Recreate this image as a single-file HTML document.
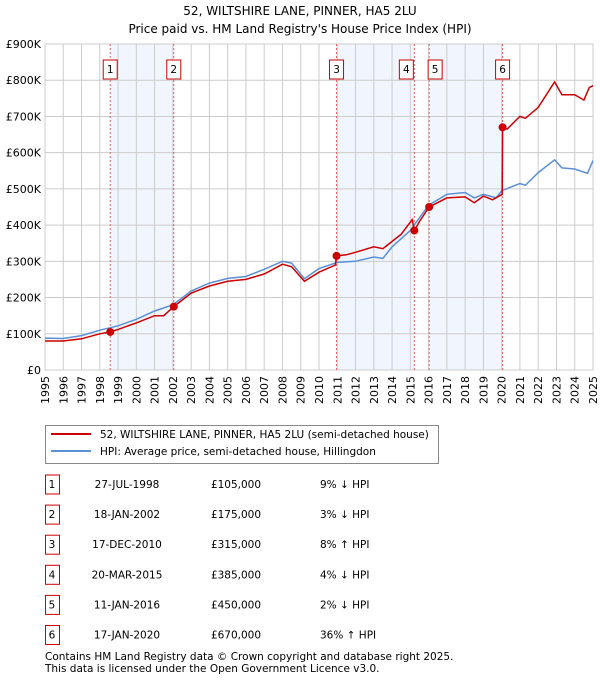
<!DOCTYPE html>
<html><head><meta charset="utf-8"><style>
body{margin:0;background:#fff;font-family:"DejaVu Sans","Liberation Sans",sans-serif;}
svg text{font-family:"DejaVu Sans","Liberation Sans",sans-serif;fill:#000}
</style></head><body>
<svg id="c" width="600" height="680" xmlns="http://www.w3.org/2000/svg">
<text x="300" y="15" font-size="12" text-anchor="middle">52, WILTSHIRE LANE, PINNER, HA5 2LU</text>
<text x="300" y="33" font-size="12" text-anchor="middle">Price paid vs. HM Land Registry's House Price Index (HPI)</text>
<g id="plot"></g>
<g>
<rect x="45.5" y="425.5" width="393" height="38" fill="#fff" stroke="#888"/>
<line x1="51" y1="434" x2="91" y2="434" stroke="#cc0000" stroke-width="2"/>
<text x="100" y="438" font-size="10.5">52, WILTSHIRE LANE, PINNER, HA5 2LU (semi-detached house)</text>
<line x1="51" y1="451" x2="91" y2="451" stroke="#5b8fd6" stroke-width="2"/>
<text x="100" y="455" font-size="10.5">HPI: Average price, semi-detached house, Hillingdon</text>
</g>
<g id="tbl"></g>
<text x="45" y="660" font-size="10.5" fill="#333">Contains HM Land Registry data © Crown copyright and database right 2025.</text>
<text x="45" y="672" font-size="10.5" fill="#333">This data is licensed under the Open Government Licence v3.0.</text>
</svg>
<script>
const hpiX=[1995,1996,1997,1998,1999,2000,2001,2002,2003,2004,2005,2006,2007,2008,2008.5,2009.2,2010,2011,2012,2013,2013.5,2014,2015,2016,2017,2018,2018.5,2019,2019.7,2020,2021,2021.3,2022,2022.9,2023.3,2024,2024.7,2025];
const hpiY=[88,87,95,110,122,140,163,180,218,240,253,258,278,300,295,252,280,297,300,312,308,340,385,455,485,490,475,485,475,495,515,510,545,580,558,555,543,578];
const redX=[1995,1996,1997,1998,1998.57,1999,2000,2001,2001.5,2002.05,2003,2004,2005,2006,2007,2008,2008.5,2009.2,2010,2010.9,2010.96,2011.5,2012,2013,2013.5,2014,2014.5,2015.1,2015.22,2015.5,2016.03,2017,2018,2018.5,2019,2019.5,2020.03,2020.05,2020.3,2021,2021.3,2022,2022.9,2023.3,2024,2024.5,2024.8,2025];
const redY=[80,80,86,100,105,112,130,150,150,175,212,232,245,250,265,292,285,245,270,290,315,318,325,340,335,355,375,415,385,410,450,475,478,462,480,470,485,670,665,700,695,725,795,760,760,745,780,785];
const saleX=[1998.57,2002.05,2010.96,2015.22,2016.03,2020.05];
const saleY=[105,175,315,385,450,670];
const saleLabels=["1","2","3","4","5","6"];
const saleDates=["27-JUL-1998","18-JAN-2002","17-DEC-2010","20-MAR-2015","11-JAN-2016","17-JAN-2020"];
const salePrices=["£105,000","£175,000","£315,000","£385,000","£450,000","£670,000"];
const saleHpi=["9% ↓ HPI","3% ↓ HPI","8% ↑ HPI","4% ↓ HPI","2% ↓ HPI","36% ↑ HPI"];
const yTicks=[0,100,200,300,400,500,600,700,800,900];
const yTickLabels=["£0","£100K","£200K","£300K","£400K","£500K","£600K","£700K","£800K","£900K"];
const NS="http://www.w3.org/2000/svg";
const X0=45,X1=593,Y0=370,Y1=44;
const xs=v=>X0+(v-1995)/30*(X1-X0);
const ys=v=>Y0-v/900*(Y0-Y1);
const plot=document.getElementById('plot');
function mk(t,a,p){const e=document.createElementNS(NS,t);for(const k in a)e.setAttribute(k,a[k]);(p||plot).appendChild(e);return e;}
[[0,1],[2,3],[4,5]].forEach(([a,b],i)=>{
 const r=mk('rect',{x:xs(saleX[a]),y:Y1,width:xs(saleX[b])-xs(saleX[a]),height:Y0-Y1,fill:'#eef3fc',opacity:0.8});
 
 
});
for(let y=1995;y<=2025;y++){const l=mk('line',{x1:xs(y),x2:xs(y),y1:Y1,y2:Y0,stroke:'#ccc','stroke-width':1});
 
 
 const g=mk('g',{transform:'translate('+(xs(y)+4)+','+(Y0+6)+') rotate(-90)'});
 const t=mk('text',{x:0,y:0,'font-size':11,'text-anchor':'end'},g);
 t.textContent=y;
 
 
}
yTicks.forEach((v,i)=>{const l=mk('line',{x1:X0,x2:X1,y1:ys(v),y2:ys(v),stroke:'#ccc','stroke-width':1});
 
 
 const t=mk('text',{x:X0-4,y:ys(v)+4,'font-size':11,'text-anchor':'end'});t.textContent=yTickLabels[i];
 
 
});
mk('rect',{x:X0,y:Y1,width:X1-X0,height:Y0-Y1,fill:'none',stroke:'#ccc'});
saleX.forEach((v,i)=>{const l=mk('line',{x1:xs(v),x2:xs(v),y1:Y1,y2:Y0,stroke:'#e86060','stroke-dasharray':'2,2','stroke-width':1});
 
 
});
const path=(X,Y)=>X.map((x,i)=>(i?'L':'M')+xs(x).toFixed(1)+','+ys(Y[i]).toFixed(1)).join('');
const hp=mk('path',{d:path(hpiX,hpiY),fill:'none',stroke:'#5b8fd6','stroke-width':1.5});


const rp=mk('path',{d:path(redX,redY),fill:'none',stroke:'#cc0000','stroke-width':1.5});


saleX.forEach((v,i)=>{const c=mk('circle',{cx:xs(v),cy:ys(saleY[i]),r:4,fill:'#cc0000'});
 
 
 const bx=xs(v)-(i==3?15:i==4?1:7);
 const r=mk('rect',{x:bx,y:60,width:14,height:19,fill:'#fff',stroke:'#cc0000'});
 
 
 const t=mk('text',{x:bx+7,y:73,'font-size':10.5,'text-anchor':'middle'});t.textContent=saleLabels[i];
 
 
});
const tbl=document.getElementById('tbl');
saleLabels.forEach((s,i)=>{const y=484+i*30.1;
 const r=mk('rect',{x:45.5,y:y-9,width:14,height:19,fill:'#fff',stroke:'#cc0000'},tbl);
 
 
 const vals=[[52,s,'middle'],[127,saleDates[i],'middle'],[236,salePrices[i],'middle'],[320,saleHpi[i],'start']];
 vals.forEach(([x,txt,a],j)=>{const t=mk('text',{x:x,y:y+4,'font-size':10.5,'text-anchor':a},tbl);t.textContent=txt;
  
  
 });
});
</script>
</body></html>
